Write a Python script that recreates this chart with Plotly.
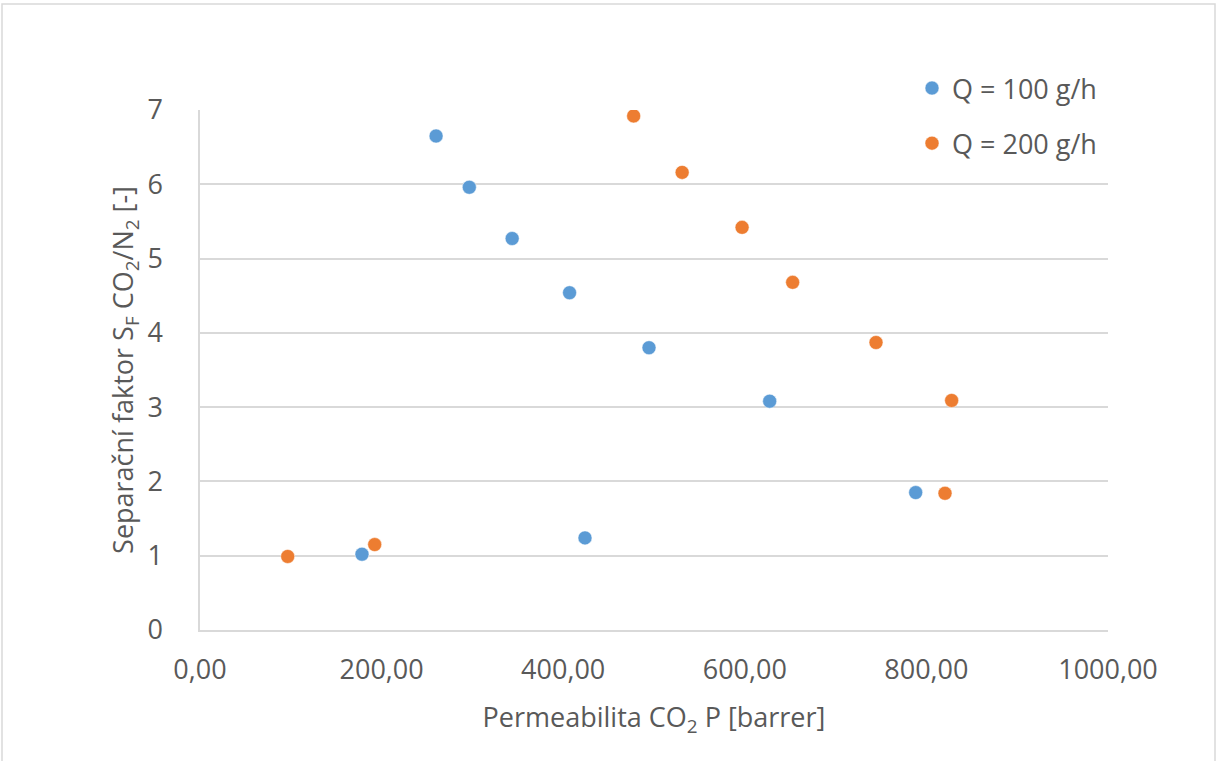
import plotly.graph_objects as go

# Permeability of CO2 [barrer] and separation factor CO2/N2 for two flow rates
perm_q100 = [260, 296.6, 343.8, 407, 494.5, 627.4, 788.2, 424, 178.4]
sf_q100 = [6.65, 5.96, 5.27, 4.54, 3.80, 3.08, 1.85, 1.24, 1.02]

perm_q200 = [477.6, 531, 597, 652.7, 744.5, 827.8, 820.5, 192.4, 96.6]
sf_q200 = [6.92, 6.16, 5.42, 4.68, 3.87, 3.09, 1.84, 1.15, 0.99]

name_q100 = "Q = 100 g/h"
name_q200 = "Q = 200 g/h"

x_ticks = [0, 200, 400, 600, 800, 1000]
y_ticks = [0, 1, 2, 3, 4, 5, 6, 7]

BLUE = "#5B9BD5"
ORANGE = "#ED7D31"
TEXT = "#595959"
GRID = "#D9D9D9"
FONT = "Open Sans, Noto Sans, DejaVu Sans, sans-serif"
FS = 27

# plot area in pixels: x 200..1108, y 110..630
PX_L, PX_R, PX_T, PX_B = 200, 1108, 110, 630


def px_x(px):
    return (px - PX_L) / (PX_R - PX_L)


def px_y(py):
    return (PX_B - py) / (PX_B - PX_T)


fig = go.Figure()
fig.add_trace(go.Scatter(
    x=perm_q100, y=sf_q100, mode="markers", name=name_q100,
    legendgroup="q100",
    marker=dict(color=BLUE, size=14, line=dict(color="white", width=0.5)),
))
fig.add_trace(go.Scatter(
    x=perm_q200, y=sf_q200, mode="markers", name=name_q200,
    legendgroup="q200",
    marker=dict(color=ORANGE, size=14, line=dict(color="white", width=0.5)),
))

fig.update_layout(
    width=1217, height=761,
    margin=dict(l=PX_L, r=1217 - PX_R, t=PX_T, b=761 - PX_B),
    paper_bgcolor="white", plot_bgcolor="white",
    separators=", ",
    font=dict(family=FONT, size=FS, color=TEXT),
    legend=dict(
        x=px_x(912), y=px_y(64), xanchor="left", yanchor="top",
        font=dict(family=FONT, size=FS, color=TEXT),
        bgcolor="rgba(0,0,0,0)", tracegroupgap=17,
        itemsizing="trace",
    ),
    xaxis=dict(
        range=[0, 1000], tickvals=x_ticks, tickformat=".2f",
        showgrid=False, zeroline=False,
        showline=True, linecolor=GRID, linewidth=1.5,
        ticks="", ticklabelstandoff=15, tickfont=dict(size=FS, color=TEXT),
        title=dict(text="Permeabilita CO<sub>2</sub> P [barrer]",
                   font=dict(size=FS, color=TEXT), standoff=22),
    ),
    yaxis=dict(
        range=[0, 7], tickvals=y_ticks,
        showgrid=True, gridcolor=GRID, gridwidth=1.5, zeroline=False,
        showline=True, linecolor=GRID, linewidth=1.5,
        ticks="", ticklabelstandoff=30, tickfont=dict(size=FS, color=TEXT),
        title=dict(text="Separační faktor S<sub>F</sub> CO<sub>2</sub>/N<sub>2</sub> [-]",
                   font=dict(size=FS, color=TEXT), standoff=6),
    ),
    shapes=[dict(
        type="rect", xref="paper", yref="paper",
        x0=px_x(2), x1=px_x(1215), y0=px_y(800), y1=px_y(4),
        line=dict(color=GRID, width=1.5), fillcolor="rgba(0,0,0,0)", layer="below",
    )],
)

fig.write_html("out.html")
